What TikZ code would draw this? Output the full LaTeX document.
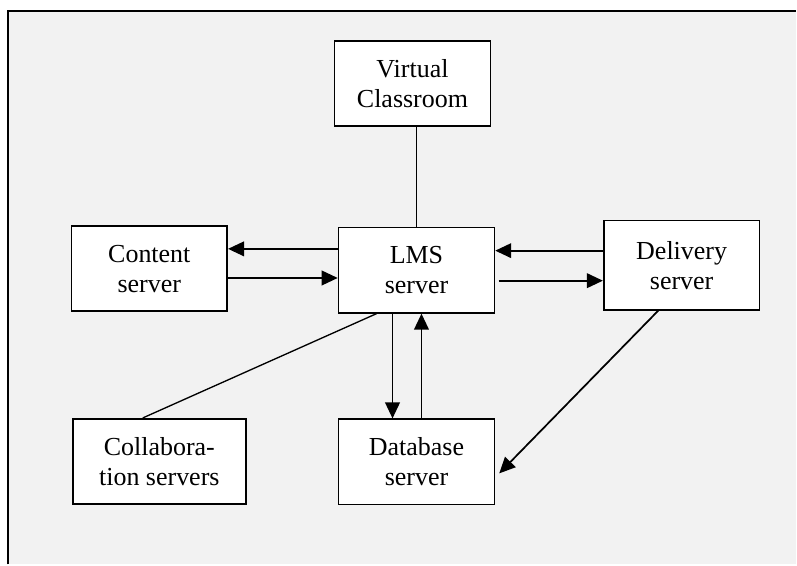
\documentclass[tikz,border=0pt]{standalone}
\usepackage{fontspec}
\setmainfont{Liberation Serif}
\usepackage{xcolor}
\usepackage{tikz}
\usetikzlibrary{arrows.meta}
\definecolor{PageGray}{RGB}{242,242,242}

\begin{document}
\begin{tikzpicture}[
  x=0.75pt, y=-0.75pt,
  server/.style={
    draw=black,
    line width=1.3pt,
    fill=white,
    font=\fontsize{19.5}{22.5}\selectfont,
    align=center,
    inner sep=0pt,
    minimum width=117pt,
    minimum height=64pt,
  },
  link/.style={line width=1pt, black},
  arr/.style={-{Triangle[length=12pt,width=11pt]}, line width=1.3pt, black},
]
  % page and frame
  \fill[white] (0,0) rectangle (797,565);
  \fill[PageGray] (8,11) rectangle (797,565);
  \draw[line width=1.5pt] (8,565) -- (8,11) -- (797,11);

  \node[server] (vc) at (413,83.5) {Virtual\\Classroom};
  \node[server] (lms) at (417,270.5) {LMS\\server};
  \node[server] (content) at (149.5,269) {Content\\server};
  \node[server, minimum height=67pt] (delivery) at (682.5,265.5) {Delivery\\server};
  \node[server, minimum width=130pt] (collab) at (159.5,462) {Collabora-\\tion servers};
  \node[server] (db) at (417,462.5) {Database\\server};

  \draw[link] (lms.north |- vc.south) -- (lms.north);

  \draw[arr] ([yshift=16pt]lms.west) -- ([yshift=16pt]lms.west -| content.east);
  \draw[arr] ([yshift=-7pt]content.east) -- ([yshift=-7pt]content.east -| lms.west);
  \draw[arr] ([yshift=10.9pt]delivery.west) -- ([yshift=10.9pt]delivery.west -| lms.east);
  \draw[arr] ([shift={(2.5pt,-7.9pt)}]lms.east) -- ([yshift=-7.9pt]lms.east -| delivery.west);

  \draw[arr] ([xshift=-18pt]lms.south) -- ([xshift=-18pt]db.north);
  \draw[arr] ([xshift=3.75pt]db.north) -- ([xshift=3.75pt]lms.south);

  \draw[link] ([xshift=-30pt]lms.south) -- ([xshift=-12.4pt]collab.north);
  \draw[arr] ([xshift=-17.6pt]delivery.south) -- ([shift={(3pt,-8.6pt)}]db.east);
\end{tikzpicture}
\end{document}
